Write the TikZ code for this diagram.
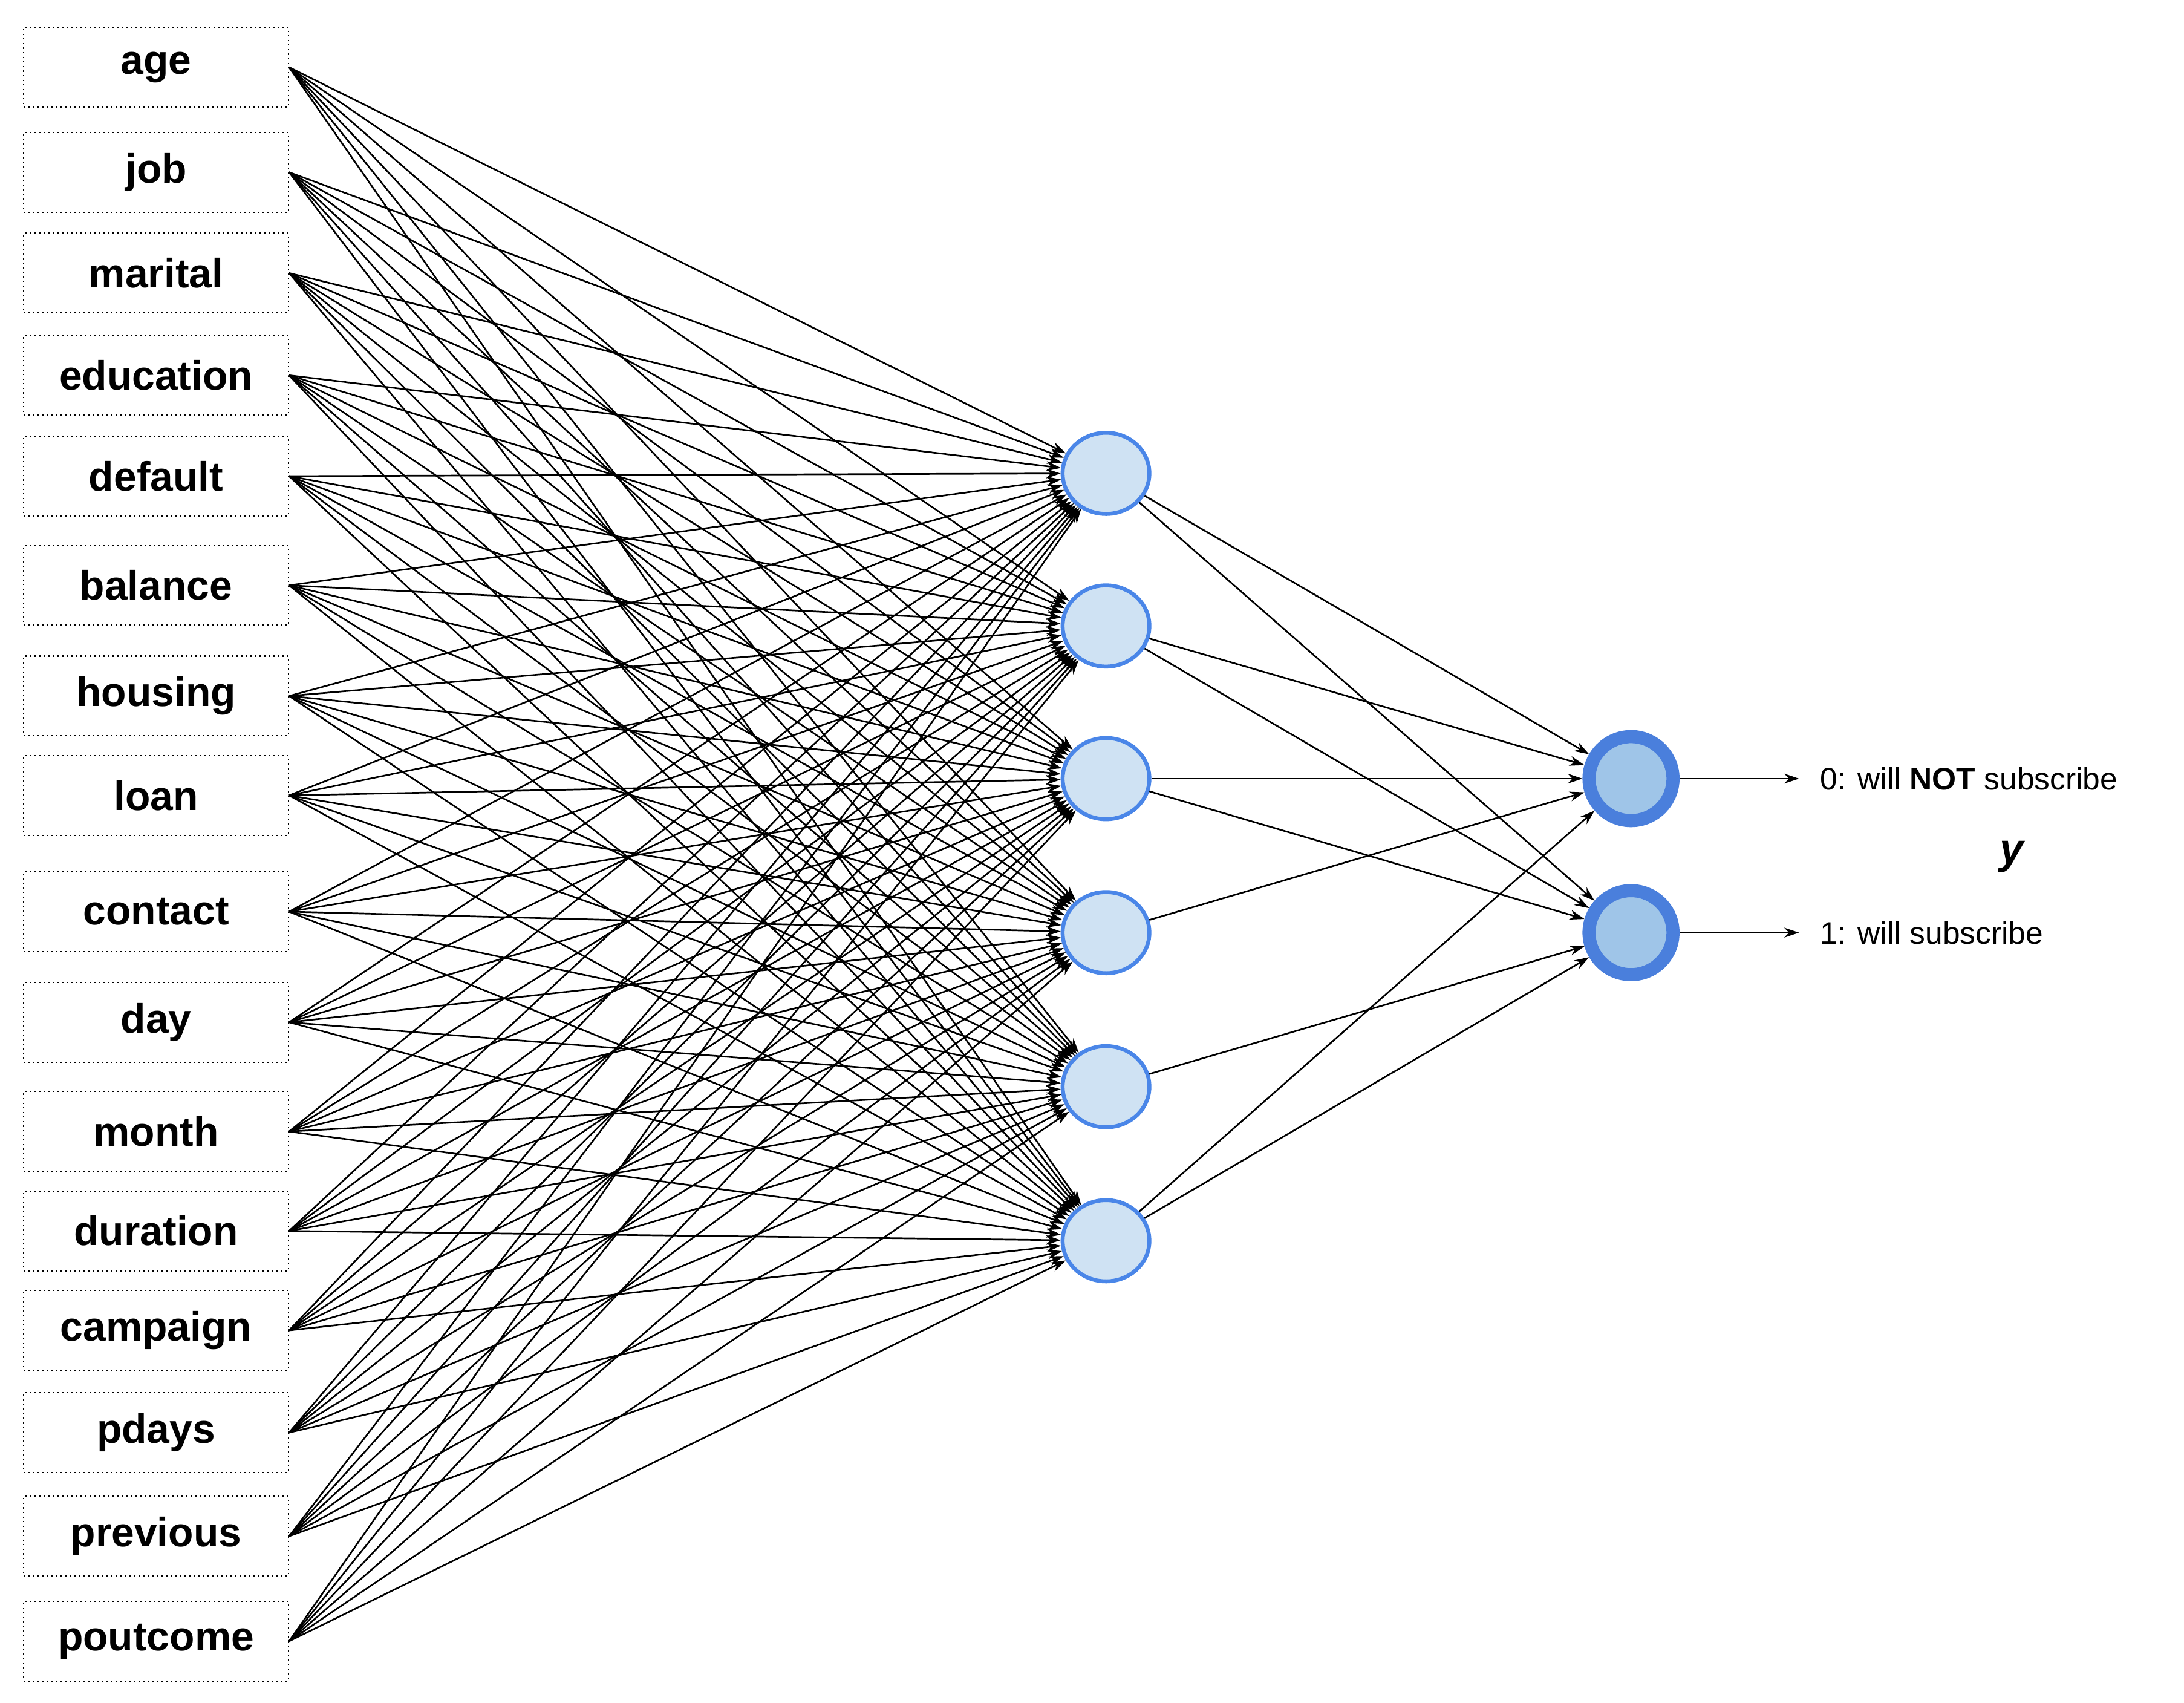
\documentclass[tikz,border=0pt]{standalone}
\usepackage{fontspec}
\setmainfont{Liberation Sans}
\usetikzlibrary{arrows.meta,shapes.geometric}
\definecolor{hb}{HTML}{4A86E8}
\definecolor{hf}{HTML}{CFE2F3}
\definecolor{ob}{HTML}{4A7FDC}
\definecolor{of}{HTML}{9FC5E8}
\begin{document}
\begin{tikzpicture}[x=0.3mm,y=-0.3mm,
 inp/.style={draw,dotted,line width=0.8pt,minimum width=189*0.3mm,minimum height=57*0.3mm,inner sep=0pt,font=\fontsize{25}{29}\selectfont\bfseries},
 hid/.style={ellipse,draw=hb,line width=2.4pt,fill=hf,minimum width=62*0.3mm,minimum height=58*0.3mm,inner sep=0pt},
 outn/.style={circle,draw=ob,line width=8pt,fill=of,minimum size=60*0.3mm,inner sep=0pt},
 con/.style={line width=1pt,-{Stealth[length=9pt,width=6pt]}},
 lab/.style={anchor=west,font=\fontsize{19}{22}\selectfont,inner sep=0pt}]
\useasboundingbox (0,0) rectangle (1560,1216);
\foreach \n/\t/\yy in {a/age/48,b/job/123,c/marital/195,d/education/268,e/default/340,f/balance/418,g/housing/497,h/loan/568,i/contact/651,j/day/730,k/month/808,l/duration/879,m/campaign/950,n/pdays/1023,o/previous/1097,p/poutcome/1172}
  \node[inp] (\n) at (111.5,\yy) {\t};
\foreach \k/\yy in {1/338,2/447,3/556,4/666,5/776,6/886}
  \node[hid] (h\k) at (790,\yy) {};
\node[outn] (o1) at (1165,556) {};
\node[outn] (o2) at (1165,666) {};
\foreach \n in {a,b,c,d,e,f,g,h,i,j,k,l,m,n,o,p}
  \foreach \k in {1,...,6}
    \draw[con] (\n.east) -- (h\k);
\foreach \k/\q in {1/1,1/2,2/1,2/2,3/1,3/2,4/1,5/2,6/1,6/2}
    \draw[con] (h\k) -- (o\q);
\coordinate (e1) at (1285,556);
\coordinate (e2) at (1285,666);
\draw[con] (o1) -- (e1);
\draw[con] (o2) -- (e2);
\node[lab] (t1) at (1300,556) {0: will \textbf{NOT} subscribe};
\node[lab] (t2) at (1300,666) {1: will subscribe};
\node[font=\fontsize{26}{30}\selectfont\bfseries\itshape] (y) at (1437,612) {y};
\end{tikzpicture}
\end{document}
